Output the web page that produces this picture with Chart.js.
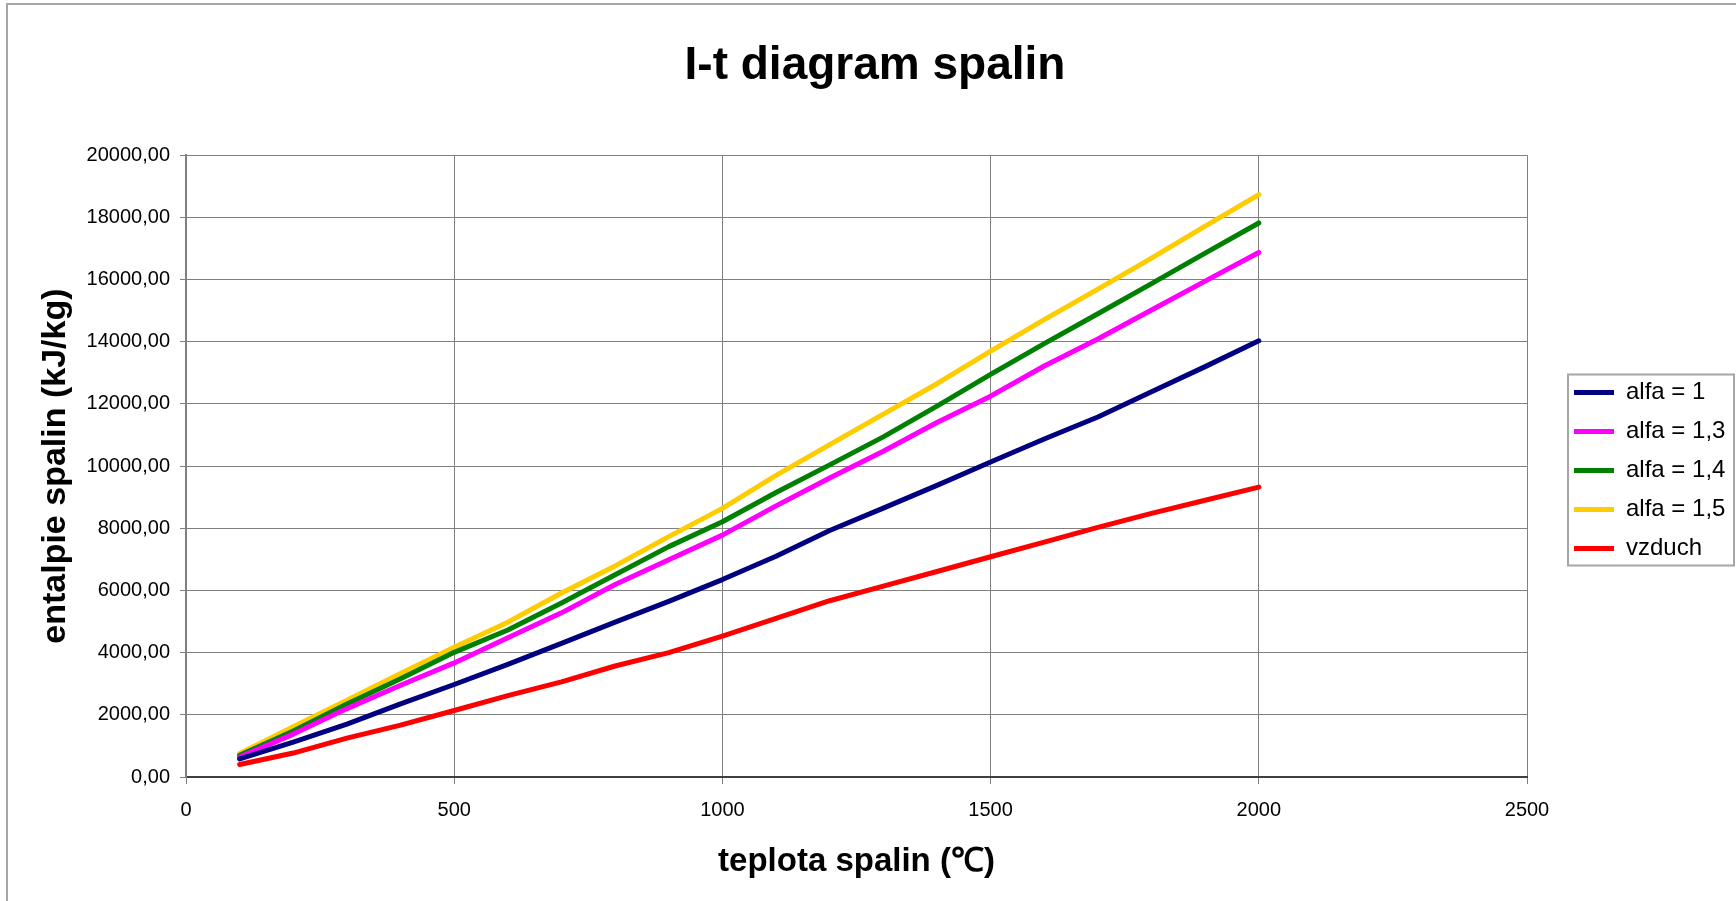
<!DOCTYPE html>
<html>
<head>
<meta charset="utf-8">
<title>I-t diagram spalin</title>
<script src="https://cdn.jsdelivr.net/npm/chart.js@4.4.1/dist/chart.umd.min.js"></script>
<style>
  html, body { margin: 0; padding: 0; background: #fff; }
  #wrap { position: relative; width: 1736px; height: 901px; overflow: hidden; }
  #frame { position: absolute; left: 6px; top: 3px; width: 1800px; height: 1000px;
           border: 2px solid #a6a6a6; box-sizing: border-box; }
  #chart { position: absolute; left: 0; top: 0; }
</style>
</head>
<body>
<div id="wrap">
  <div id="frame"></div>
  <canvas id="chart" width="1736" height="901"></canvas>
</div>
<script>
// teplota spalin (°C)
const temps = [100, 200, 300, 400, 500, 600, 700, 800, 900, 1000,
               1100, 1200, 1300, 1400, 1500, 1600, 1700, 1800, 1900, 2000];

// entalpie spalin (kJ/kg)
const alfa1  = [580, 1120, 1700, 2350, 2975, 3620, 4300, 4980, 5650, 6350,
                7100, 7930, 8650, 9380, 10130, 10870, 11580, 12390, 13200, 14030];
const alfa13 = [640, 1380, 2200, 2950, 3670, 4480, 5280, 6190, 6990, 7780,
                8720, 9620, 10480, 11400, 12250, 13220, 14090, 15020, 15950, 16870];
const alfa14 = [700, 1480, 2350, 3160, 4010, 4730, 5600, 6505, 7410, 8210,
                9150, 10040, 10940, 11930, 12950, 13940, 14900, 15870, 16850, 17820];
const alfa15 = [760, 1620, 2470, 3330, 4170, 4980, 5920, 6790, 7730, 8640,
                9700, 10690, 11670, 12650, 13700, 14710, 15690, 16690, 17720, 18730];
const vzduch = [400, 770, 1250, 1670, 2140, 2620, 3060, 3570, 4000, 4530,
                5100, 5670, 6140, 6610, 7085, 7557, 8030, 8480, 8900, 9325];

const seriesNames = ['alfa = 1', 'alfa = 1,3', 'alfa = 1,4', 'alfa = 1,5', 'vzduch'];
const seriesValues = [alfa1, alfa13, alfa14, alfa15, vzduch];
const seriesColors = ['#000080', '#ff00ff', '#008000', '#ffcc00', '#ff0000'];

const FONT = "'Liberation Sans', Arial, sans-serif";
const LEGEND_WIDTH = 209;
const LEGEND_GAP = 32;
const LEGEND_DROP = 20;

const toPoints = vals => temps.map((t, i) => ({ x: t, y: vals[i] }));

// legend sits a bit right of the plot and gets a thin frame
const legendFrame = {
  id: 'legendFrame',
  afterInit(chart) {
    const lg = chart.legend;
    const fit = lg.fit;
    lg.fit = function () { fit.call(this); this.width = LEGEND_WIDTH; };
    const draw = lg.draw;
    lg.draw = function () {
      this.left += LEGEND_GAP;
      this.top += LEGEND_DROP;
      this.bottom += LEGEND_DROP;
      draw.call(this);
      this.left -= LEGEND_GAP;
      this.top -= LEGEND_DROP;
      this.bottom -= LEGEND_DROP;
    };
  },
  afterDraw(chart) {
    const lg = chart.legend;
    const pad = lg.options.labels.padding;
    const colH = lg.columnSizes[0].height;
    const x0 = lg.left + LEGEND_GAP + pad - 6;
    const x1 = lg.left + lg.width - 2;
    const y0 = (lg.top + pad + lg.bottom - colH) / 2 + LEGEND_DROP - 6;
    const h = colH - pad + 11;
    const ctx = chart.ctx;
    ctx.save();
    ctx.strokeStyle = '#a6a6a6';
    ctx.lineWidth = 2;
    ctx.strokeRect(x0, y0, x1 - x0, h);
    ctx.restore();
  }
};

new Chart(document.getElementById('chart'), {
  type: 'scatter',
  data: {
    datasets: seriesNames.map((name, i) => ({
      label: name,
      data: toPoints(seriesValues[i]),
      showLine: true,
      borderColor: seriesColors[i],
      backgroundColor: seriesColors[i],
      borderWidth: 5,
      borderCapStyle: 'round',
      borderJoinStyle: 'round',
      pointRadius: 0,
      tension: 0
    }))
  },
  options: {
    responsive: false,
    animation: false,
    layout: { padding: { left: 14, right: 0, top: 0, bottom: 0 } },
    plugins: {
      title: {
        display: true,
        text: 'I-t diagram spalin',
        color: '#000',
        font: { family: FONT, size: 46, weight: 'bold' },
        padding: { top: 39, bottom: 61 }
      },
      legend: {
        position: 'right',
        labels: {
          color: '#000',
          font: { family: FONT, size: 24 },
          boxWidth: 40,
          boxHeight: 5,
          padding: 15,
          generateLabels(chart) {
            return Chart.defaults.plugins.legend.labels.generateLabels(chart)
              .map(l => Object.assign(l, { lineWidth: 0, fillStyle: l.strokeStyle }));
          }
        }
      },
      tooltip: { enabled: false }
    },
    scales: {
      x: {
        type: 'linear',
        min: 0,
        max: 2500,
        afterFit(scale) { scale.height = 124; },
        ticks: {
          stepSize: 500,
          color: '#000',
          padding: 14,
          font: { family: FONT, size: 20 },
          maxRotation: 0,
          callback: v => String(v)
        },
        grid: { color: '#808080', lineWidth: 1, tickLength: 7, tickColor: '#808080' },
        border: { color: '#404040', width: 2 },
        title: {
          display: true,
          text: 'teplota spalin (℃)',
          color: '#000',
          font: { family: FONT, size: 33, weight: 'bold' },
          padding: { top: 0, bottom: 19 }
        }
      },
      y: {
        min: 0,
        max: 20000,
        afterFit(scale) { scale.width = 172; },
        ticks: {
          stepSize: 2000,
          color: '#000',
          padding: 10,
          font: { family: FONT, size: 20 },
          callback: v => v.toFixed(2).replace('.', ',')
        },
        grid: { color: '#808080', lineWidth: 1, tickLength: 6, tickColor: '#808080' },
        border: { color: '#808080', width: 2 },
        title: {
          display: true,
          text: 'entalpie spalin (kJ/kg)',
          color: '#000',
          font: { family: FONT, size: 34, weight: 'bold' },
          padding: { top: 21, bottom: 0 }
        }
      }
    }
  },
  plugins: [legendFrame]
});
</script>
</body>
</html>
